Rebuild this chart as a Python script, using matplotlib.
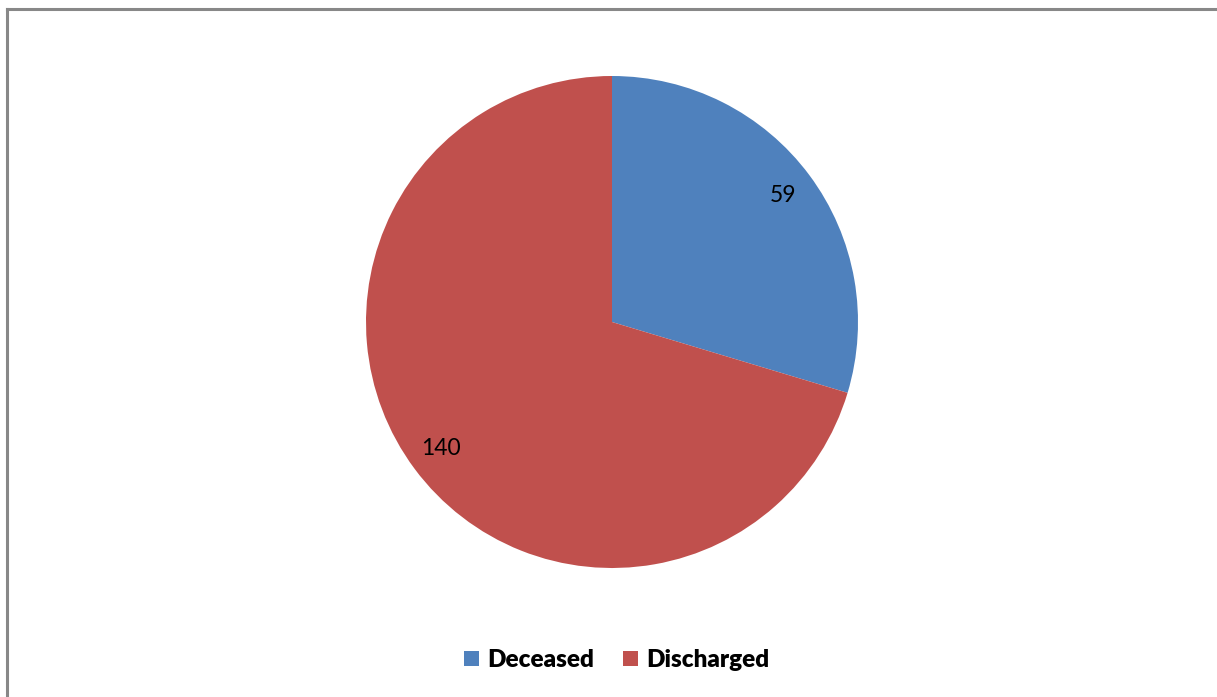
import matplotlib.pyplot as plt
from matplotlib.lines import Line2D
from matplotlib.patches import Patch

categories = ["Deceased", "Discharged"]
counts = [59, 140]
colors = ["#4F81BD", "#C0504D"]

W, H = 1217, 697
fig = plt.figure(figsize=(W / 100, H / 100), dpi=100)
fig.patch.set_facecolor("white")

# Outer chart frame (left and top edges visible)
fig.add_artist(Line2D([6.5 / W, 6.5 / W], [0, 1 - 8.5 / H], transform=fig.transFigure,
                      color="#888888", lw=2.2))
fig.add_artist(Line2D([6.5 / W, 1], [1 - 8.5 / H, 1 - 8.5 / H], transform=fig.transFigure,
                      color="#888888", lw=2.2))

cx, cy, r = 612, 322, 246
ax = fig.add_axes([(cx - r) / W, (H - cy - r) / H, 2 * r / W, 2 * r / H])
wedges, texts = ax.pie(
    counts, colors=colors, startangle=90, counterclock=False,
    labels=[str(v) for v in counts], labeldistance=0.865,
    wedgeprops=dict(linewidth=0),
    textprops=dict(fontsize=16.5, color="black", family="Lato", ha="center", va="center"),
)
ax.set_xlim(-1, 1)
ax.set_ylim(-1, 1)
ax.set_aspect("equal")
ax.axis("off")

handles = [Patch(facecolor=c, edgecolor="none") for c in colors]
fig.legend(handles, categories, loc="center", bbox_to_anchor=(617 / W, 1 - 660 / H),
           ncol=2, frameon=False, handlelength=0.6, handleheight=0.6,
           handletextpad=0.35, columnspacing=1.2,
           prop=dict(family="Lato", weight="heavy", size=17.5))

fig.savefig("out.png", dpi=100, facecolor="white")
